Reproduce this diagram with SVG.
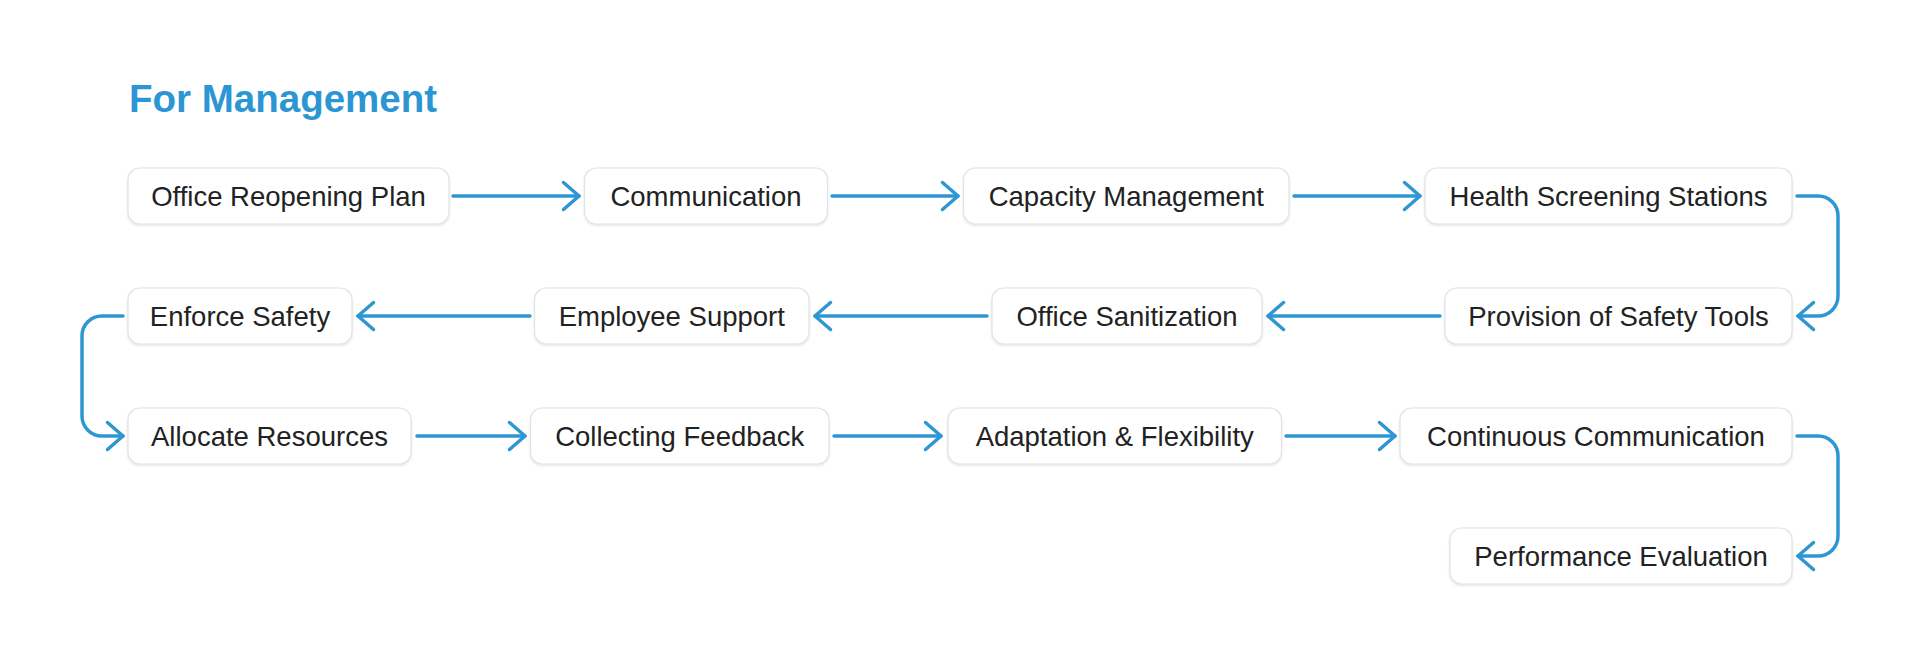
<svg xmlns="http://www.w3.org/2000/svg" width="1920" height="656" viewBox="0 0 1920 656">
  <defs>
    <style>
      .title { font-family: "Liberation Sans", Arial, sans-serif; font-weight: bold; font-size: 38.5px; fill: #2B96D3; }
      .box { fill: #FFFFFF; stroke: #E2E2E2; stroke-width: 1.2; filter: url(#sh); }
      .lbl { font-family: "Liberation Sans", Arial, sans-serif; font-size: 27.5px; fill: #222222; text-anchor: middle; }
      .con { fill: none; stroke: #2E97D3; stroke-width: 3.5; stroke-linecap: round; stroke-linejoin: round; marker-end: url(#ah); }
    </style>
    <filter id="sh" x="-10%" y="-20%" width="120%" height="150%">
      <feDropShadow dx="0" dy="1.2" stdDeviation="1" flood-color="#000000" flood-opacity="0.12"/>
    </filter>
    <marker id="ah" markerUnits="userSpaceOnUse" markerWidth="40" markerHeight="40" refX="0" refY="0" orient="auto" overflow="visible">
      <path d="M-15.5,-13.5 L0,0 L-15.5,13.5" fill="none" stroke="#2E97D3" stroke-width="3.5" stroke-linecap="round" stroke-linejoin="round"/>
    </marker>
  </defs>
  <rect width="1920" height="656" fill="#FFFFFF"/>
  <text class="title" x="129" y="112">For Management</text>

  <g id="connectors">
    <path class="con" d="M453 196 H579"/>
    <path class="con" d="M832 196 H958"/>
    <path class="con" d="M1294 196 H1420"/>
    <path class="con" d="M1797 196 H1818 A20 20 0 0 1 1838 216 V296 A20 20 0 0 1 1818 316 H1798"/>
    <path class="con" d="M1440 316 H1268"/>
    <path class="con" d="M987 316 H815"/>
    <path class="con" d="M530 316 H358"/>
    <path class="con" d="M123 316 H102 A20 20 0 0 0 82 336 V416 A20 20 0 0 0 102 436 H123"/>
    <path class="con" d="M417 436 H525"/>
    <path class="con" d="M834 436 H941"/>
    <path class="con" d="M1286 436 H1395"/>
    <path class="con" d="M1797 436 H1818 A20 20 0 0 1 1838 456 V536 A20 20 0 0 1 1818 556 H1798"/>
  </g>

  <g id="n1"><rect class="box" x="128" y="168" width="321" height="56" rx="12"/><text class="lbl" x="288.5" y="205.5">Office Reopening Plan</text></g>
  <g id="n2"><rect class="box" x="584.5" y="168" width="243" height="56" rx="12"/><text class="lbl" x="706" y="205.5">Communication</text></g>
  <g id="n3"><rect class="box" x="963.5" y="168" width="325.5" height="56" rx="12"/><text class="lbl" x="1126.25" y="205.5">Capacity Management</text></g>
  <g id="n4"><rect class="box" x="1425" y="168" width="367" height="56" rx="12"/><text class="lbl" x="1608.5" y="205.5">Health Screening Stations</text></g>

  <g id="n5"><rect class="box" x="1445" y="288" width="347" height="56" rx="12"/><text class="lbl" x="1618.5" y="325.5">Provision of Safety Tools</text></g>
  <g id="n6"><rect class="box" x="992" y="288" width="270" height="56" rx="12"/><text class="lbl" x="1127" y="325.5">Office Sanitization</text></g>
  <g id="n7"><rect class="box" x="534.5" y="288" width="274.5" height="56" rx="12"/><text class="lbl" x="671.75" y="325.5">Employee Support</text></g>
  <g id="n8"><rect class="box" x="128" y="288" width="224" height="56" rx="12"/><text class="lbl" x="240" y="325.5">Enforce Safety</text></g>

  <g id="n9"><rect class="box" x="128" y="408" width="283" height="56" rx="12"/><text class="lbl" x="269.5" y="445.5">Allocate Resources</text></g>
  <g id="n10"><rect class="box" x="530.5" y="408" width="298.5" height="56" rx="12"/><text class="lbl" x="679.75" y="445.5">Collecting Feedback</text></g>
  <g id="n11"><rect class="box" x="948" y="408" width="333.5" height="56" rx="12"/><text class="lbl" x="1114.75" y="445.5">Adaptation &amp; Flexibility</text></g>
  <g id="n12"><rect class="box" x="1400" y="408" width="392" height="56" rx="12"/><text class="lbl" x="1596" y="445.5">Continuous Communication</text></g>

  <g id="n13"><rect class="box" x="1450" y="528" width="342" height="56" rx="12"/><text class="lbl" x="1621" y="565.5">Performance Evaluation</text></g>
</svg>
